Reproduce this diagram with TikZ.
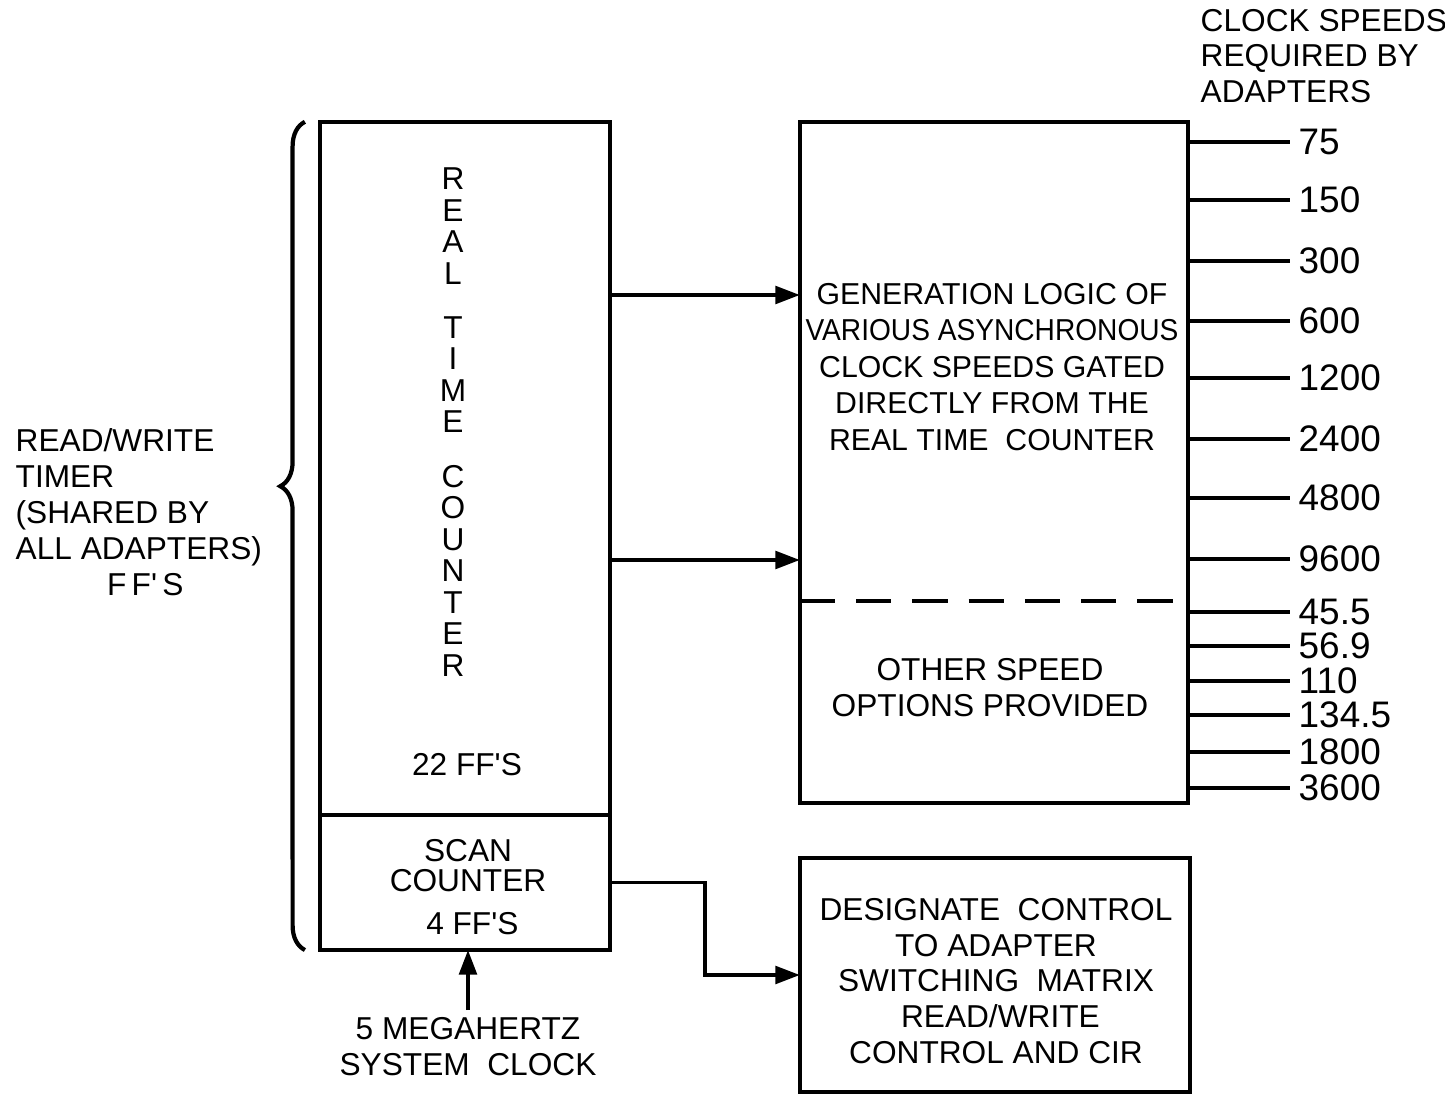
\documentclass[tikz,border=0pt]{standalone}
\usepackage{fontspec}
\setmainfont{Liberation Sans}
\newfontfamily\narrowfont[FakeStretch=0.93]{Liberation Sans}
\usetikzlibrary{positioning,arrows.meta,decorations.pathreplacing}

\tikzset{
  blk/.style={draw,line width=1.2pt,inner sep=0pt,outer sep=0pt},
  txt/.style={align=center,inner sep=0pt,font=\fontsize{9}{10.2}\selectfont},
  feed/.style={-{Triangle[length=7pt,width=5pt]},line width=1.1pt},
  tap/.style={line width=1pt},
  speed/.style={anchor=west,inner sep=0pt,font=\fontsize{10.5}{12}\selectfont},
}
\newcommand{\ap}{\textquotesingle}

\begin{document}
\begin{tikzpicture}[x=0.01cm,y=-0.01cm]
	\useasboundingbox (0,0) rectangle (1445,1094);

	% counters
	\node[blk,minimum width=2.9cm,minimum height=6.93cm](rtc) at (465,468.5) {};
	\node[blk,minimum width=2.9cm,minimum height=1.35cm](scan) at (465,882.5) {};
	\node[txt,font=\fontsize{9}{8.6}\selectfont](scantxt) at (468,887)
		{SCAN\\COUNTER\\[3.5pt]\ 4 FF\ap S};
	\node[txt,font=\fontsize{9}{8.95}\selectfont](rtcname) at (453,422)
		{R\\E\\A\\L\\[6.5pt]T\\I\\M\\E\\[6.5pt]C\\O\\U\\N\\T\\E\\R};
	\node[txt](rtcff) at (467,765) {22 FF\ap S};

	% brace and timer label
	\draw[line width=1.2pt,decorate,decoration={brace,amplitude=7pt,aspect=0.56}]
		(rtc.south west |- scan.south) ++(-15,0) -- ([xshift=-0.15cm]rtc.north west);
	\node[txt,align=left,anchor=west](timer) at (15,512)
		{READ/WRITE\\TIMER\\(SHARED BY\\ALL ADAPTERS)\\\hspace*{26pt}F\,F\ap\,S};

	% clock input
	\node[txt](clk) at (468,1047) {5 MEGAHERTZ\\SYSTEM\ \ CLOCK};
	\draw[feed]([yshift=0.07cm]clk.north) -- (clk.north |- scan.south);

	% generation logic
	\node[blk,minimum width=3.88cm,minimum height=6.81cm](gen) at (994,462.5) {};
	\node[txt,font=\fontsize{8.6}{10.4}\selectfont](genname) at (992,367)
		{GENERATION LOGIC OF\\{\narrowfont VARIOUS ASYNCHRONOUS}\\CLOCK SPEEDS GATED\\
		DIRECTLY FROM THE\\REAL TIME\ \ COUNTER};
	\coordinate(split) at (994,601);
	\draw[line width=1.2pt,dash pattern=on 10pt off 6pt]
		(gen.west |- split) -- (gen.east |- split);
	\node[txt](other) at (990,688) {OTHER SPEED\\OPTIONS PROVIDED};

	\coordinate(g1) at (700,295);
	\coordinate(g2) at (700,560);
	\draw[feed](rtc.east |- g1) -- (gen.west |- g1);
	\draw[feed](rtc.east |- g2) -- (gen.west |- g2);

	% clock speeds
	\node[txt,align=left,anchor=west](head) at (1200,56)
		{CLOCK SPEEDS\\REQUIRED BY\\ADAPTERS};
	\foreach \v/\y [count=\i] in {75/142,150/200,300/261,600/321,1200/378,
		2400/439,4800/498,9600/559,45.5/612,56.9/646,110/681,134.5/715,
		1800/752,3600/788}{
		\node[speed](s\i) at (1298,\y) {\v};
		\draw[tap](gen.east |- s\i) -- ([xshift=-0.08cm]s\i.west);
	}

	% designate control
	\node[blk,minimum width=3.9cm,minimum height=2.34cm](desig) at (995,975) {};
	\node[txt](desigtxt) at (996,981)
		{DESIGNATE\ \ CONTROL\\TO ADAPTER\\SWITCHING\ \ MATRIX\\
		\ READ/WRITE\\CONTROL AND CIR};
	\draw[feed](scan.east) -- ++(95,0) |- (desig.west);
\end{tikzpicture}
\end{document}
